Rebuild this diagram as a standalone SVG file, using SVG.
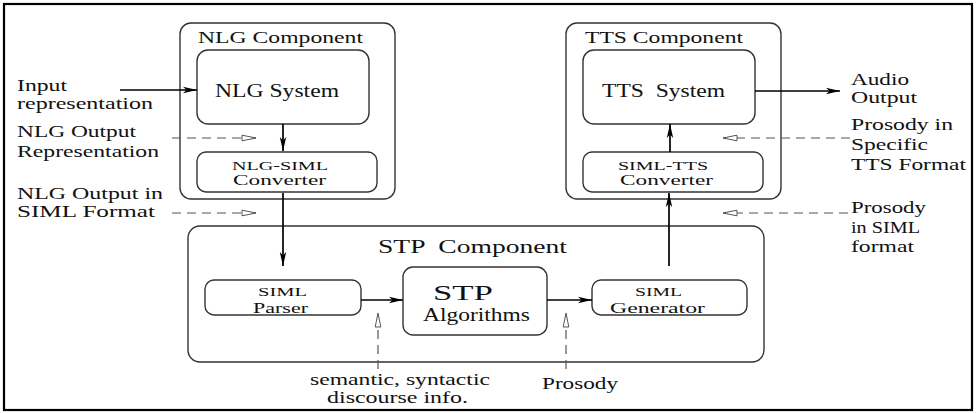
<svg xmlns="http://www.w3.org/2000/svg" width="976" height="413" viewBox="0 0 976 413">
<style>
text{font-family:"Liberation Serif","Times New Roman",serif;fill:#111}
.box{fill:#fff;stroke:#333;stroke-width:1.4}
.solid{stroke:#000;stroke-width:1.7;fill:none}
.dash{stroke:#555;stroke-width:1.2;fill:none;stroke-dasharray:9 6}
.f17{font-size:17px}
.f13{font-size:13px}
.f15{font-size:15px}
.f19{font-size:19px}
</style>
<defs>
<marker id="ah" markerUnits="userSpaceOnUse" markerWidth="16" markerHeight="8" refX="14" refY="4" orient="auto">
<path d="M0,0.8 L14,4 L0,7.2 L3.5,4 z" fill="#000"/>
</marker>
<marker id="oh" markerUnits="userSpaceOnUse" markerWidth="17" markerHeight="8" refX="15" refY="4" orient="auto">
<path d="M1,1.2 L15,4 L1,6.8 z" fill="#fff" stroke="#555" stroke-width="1"/>
</marker>
</defs>
<rect x="4" y="4" width="968" height="406" fill="#fff" stroke="#000" stroke-width="2.2"/>

<g id="nlg-component">
<rect class="box" x="180" y="23" width="215" height="176" rx="11"/>
<text class="f17" x="198" y="43" textLength="165" lengthAdjust="spacingAndGlyphs">NLG Component</text>
</g>
<g id="nlg-system">
<rect class="box" x="197" y="50" width="172" height="74" rx="11"/>
<text class="f19" x="215" y="97" textLength="124" lengthAdjust="spacingAndGlyphs">NLG System</text>
</g>
<g id="nlg-siml-converter">
<rect class="box" x="197" y="152" width="180" height="40" rx="9"/>
<text class="f13" x="232" y="170" textLength="96" lengthAdjust="spacingAndGlyphs">NLG-SIML</text>
<text class="f15" x="233" y="185" textLength="93" lengthAdjust="spacingAndGlyphs">Converter</text>
</g>

<g id="tts-component">
<rect class="box" x="566" y="23" width="215" height="176" rx="11"/>
<text class="f17" x="585" y="43" textLength="158" lengthAdjust="spacingAndGlyphs">TTS Component</text>
</g>
<g id="tts-system">
<rect class="box" x="583" y="50" width="172" height="74" rx="11"/>
<text class="f19" x="602" y="97" textLength="123" lengthAdjust="spacingAndGlyphs" xml:space="preserve">TTS  System</text>
</g>
<g id="siml-tts-converter">
<rect class="box" x="583" y="152" width="180" height="40" rx="9"/>
<text class="f13" x="618" y="170" textLength="90" lengthAdjust="spacingAndGlyphs">SIML-TTS</text>
<text class="f15" x="620" y="185" textLength="93" lengthAdjust="spacingAndGlyphs">Converter</text>
</g>

<g id="stp-component">
<rect class="box" x="188" y="226" width="576" height="136" rx="12"/>
<text style="font-size:18px" x="378" y="253" textLength="189" lengthAdjust="spacingAndGlyphs" xml:space="preserve">STP  Component</text>
</g>
<g id="siml-parser">
<rect class="box" x="205" y="280" width="156" height="35" rx="9"/>
<text class="f13" x="258" y="296" textLength="49" lengthAdjust="spacingAndGlyphs">SIML</text>
<text class="f15" x="253" y="313" textLength="55" lengthAdjust="spacingAndGlyphs">Parser</text>
</g>
<g id="stp-algorithms">
<rect class="box" x="403" y="267" width="144" height="68" rx="10"/>
<text style="font-size:22px" x="433" y="300" textLength="60" lengthAdjust="spacingAndGlyphs">STP</text>
<text class="f19" x="423" y="321" textLength="107" lengthAdjust="spacingAndGlyphs">Algorithms</text>
</g>
<g id="siml-generator">
<rect class="box" x="592" y="280" width="155" height="35" rx="9"/>
<text class="f13" x="635" y="296" textLength="47" lengthAdjust="spacingAndGlyphs">SIML</text>
<text class="f15" x="610" y="313" textLength="95" lengthAdjust="spacingAndGlyphs">Generator</text>
</g>

<g id="labels">
<text class="f17" x="17" y="91" textLength="50" lengthAdjust="spacingAndGlyphs">Input</text>
<text class="f17" x="17" y="109" textLength="136" lengthAdjust="spacingAndGlyphs">representation</text>
<text class="f17" x="17" y="137" textLength="119" lengthAdjust="spacingAndGlyphs">NLG Output</text>
<text class="f17" x="17" y="157" textLength="142" lengthAdjust="spacingAndGlyphs">Representation</text>
<text class="f17" x="17" y="199" textLength="146" lengthAdjust="spacingAndGlyphs">NLG Output in</text>
<text class="f17" x="17" y="217" textLength="138" lengthAdjust="spacingAndGlyphs">SIML Format</text>
<text class="f17" x="851" y="85" textLength="58" lengthAdjust="spacingAndGlyphs">Audio</text>
<text class="f17" x="851" y="103" textLength="66" lengthAdjust="spacingAndGlyphs">Output</text>
<text class="f17" x="851" y="130" textLength="102" lengthAdjust="spacingAndGlyphs">Prosody in</text>
<text class="f17" x="851" y="150" textLength="77" lengthAdjust="spacingAndGlyphs">Specific</text>
<text class="f17" x="851" y="170" textLength="115" lengthAdjust="spacingAndGlyphs">TTS Format</text>
<text class="f17" x="851" y="213" textLength="75" lengthAdjust="spacingAndGlyphs">Prosody</text>
<text class="f17" x="851" y="233" textLength="69" lengthAdjust="spacingAndGlyphs">in SIML</text>
<text class="f17" x="851" y="252" textLength="63" lengthAdjust="spacingAndGlyphs">format</text>
<text class="f17" x="310" y="385" textLength="180" lengthAdjust="spacingAndGlyphs">semantic, syntactic</text>
<text class="f17" x="327" y="403" textLength="141" lengthAdjust="spacingAndGlyphs">discourse info.</text>
<text class="f17" x="542" y="389" textLength="76" lengthAdjust="spacingAndGlyphs">Prosody</text>
</g>

<g id="connectors">
<line class="solid" x1="120" y1="90" x2="197" y2="90" marker-end="url(#ah)"/>
<line class="solid" x1="283" y1="124" x2="283" y2="151" marker-end="url(#ah)"/>
<line class="solid" x1="283" y1="193" x2="283" y2="266" marker-end="url(#ah)"/>
<line class="solid" x1="361" y1="300" x2="403" y2="300" marker-end="url(#ah)"/>
<line class="solid" x1="547" y1="300" x2="592" y2="300" marker-end="url(#ah)"/>
<line class="solid" x1="669" y1="266" x2="669" y2="193" marker-end="url(#ah)"/>
<line class="solid" x1="670" y1="152" x2="670" y2="124" marker-end="url(#ah)"/>
<line class="solid" x1="755" y1="91" x2="840" y2="91" marker-end="url(#ah)"/>
<line class="dash" x1="172" y1="138" x2="256" y2="138" marker-end="url(#oh)"/>
<line class="dash" x1="172" y1="213" x2="256" y2="213" marker-end="url(#oh)"/>
<line class="dash" x1="850" y1="138" x2="723" y2="138" marker-end="url(#oh)"/>
<line class="dash" x1="848" y1="213" x2="723" y2="213" marker-end="url(#oh)"/>
<line class="dash" x1="378" y1="369" x2="378" y2="313" marker-end="url(#oh)"/>
<line class="dash" x1="566" y1="369" x2="566" y2="313" marker-end="url(#oh)"/>
</g>
</svg>
